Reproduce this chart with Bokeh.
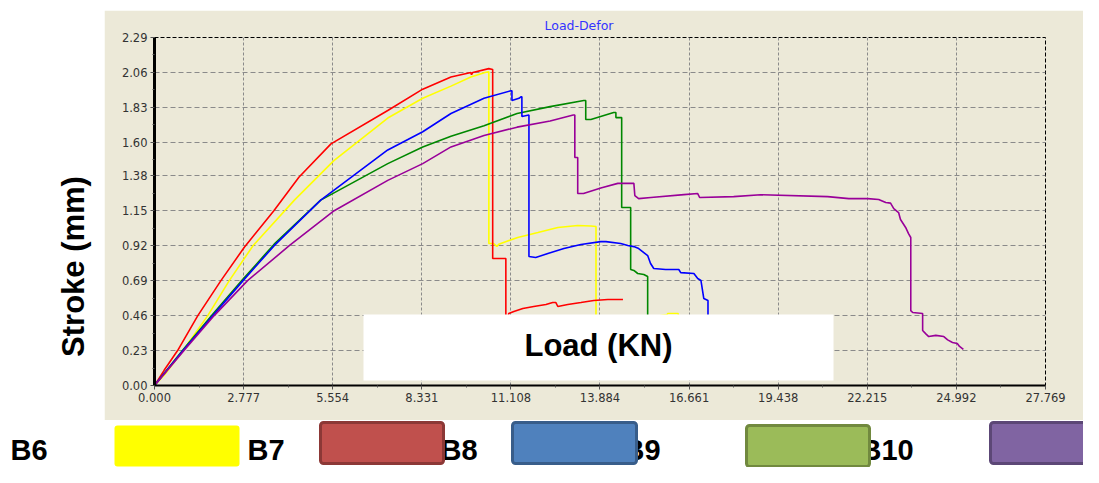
import math
from bokeh.plotting import figure
from bokeh.models import Range1d, FixedTicker, BoxAnnotation, Label, NumeralTickFormatter, Spacer
from bokeh.layouts import column, row
from bokeh.embed import file_html
from bokeh.resources import INLINE

# ---------------- data ----------------
x_ticks = [0.000, 2.777, 5.554, 8.331, 11.108, 13.884, 16.661, 19.438, 22.215, 24.992, 27.769]
y_ticks = [0.00, 0.23, 0.46, 0.69, 0.92, 1.15, 1.38, 1.60, 1.83, 2.06, 2.29]

series_names = ["B6", "B7", "B8", "B9", "B10"]
line_colors = ["#FFFF00", "#FF0000", "#0000FF", "#008800", "#990099"]

b6_load = [0, 0.35, 0.89, 1.66, 2.33, 3.07, 4.36, 5.59, 7.27, 8.36, 9.24, 9.86, 10.30, 10.42, 10.42,
           10.57, 10.67, 10.73, 11.32, 11.95, 12.57, 13.19, 13.60, 13.76, 13.76, 14.80, 15.97, 16.00, 16.32, 16.34]
b6_stroke = [0, 0.08, 0.23, 0.46, 0.69, 0.92, 1.22, 1.48, 1.76, 1.89, 1.97, 2.03, 2.06, 2.065, 0.934,
             0.934, 0.915, 0.930, 0.974, 1.007, 1.040, 1.053, 1.050, 1.046, 0.40, 0.43, 0.466, 0.474, 0.474, 0.42]

b7_load = [0, 0.30, 0.72, 1.35, 2.07, 2.80, 3.72, 4.50, 5.50, 7.27, 8.36, 9.24, 9.86, 9.88, 9.92, 10.42,
           10.54, 10.54, 10.95, 10.95, 11.04, 11.20, 11.48, 11.82, 12.20, 12.41, 12.51, 12.57, 12.88,
           13.29, 13.69, 14.13, 14.60]
b7_stroke = [0, 0.10, 0.23, 0.46, 0.69, 0.91, 1.15, 1.37, 1.59, 1.81, 1.95, 2.03, 2.06, 2.045, 2.06, 2.085,
             2.08, 0.836, 0.836, 0.35, 0.474, 0.487, 0.507, 0.520, 0.533, 0.546, 0.546, 0.520, 0.533,
             0.546, 0.559, 0.566, 0.566]

b8_load = [0, 0.89, 1.82, 2.76, 3.73, 5.18, 7.27, 8.36, 9.24, 10.27, 11.11, 11.14, 11.14, 11.36, 11.42,
           11.45, 11.45, 11.67, 11.67, 11.88, 12.26, 12.76, 13.29, 13.91, 14.07, 14.53, 14.75, 14.94,
           15.09, 15.25, 15.37, 15.46, 15.56, 15.93, 16.34, 16.40, 16.81, 16.93, 17.03, 17.12, 17.25, 17.25]
b8_stroke = [0, 0.23, 0.46, 0.69, 0.92, 1.22, 1.55, 1.67, 1.79, 1.89, 1.94, 1.94, 1.875, 1.89, 1.90,
             1.90, 1.77, 1.78, 0.849, 0.842, 0.868, 0.901, 0.928, 0.947, 0.947, 0.934, 0.921, 0.914,
             0.901, 0.875, 0.855, 0.803, 0.770, 0.763, 0.763, 0.743, 0.737, 0.704, 0.691, 0.572, 0.559, 0.30]

b9_load = [0, 0.89, 1.82, 2.76, 3.73, 5.18, 7.27, 8.36, 9.24, 10.27, 11.30, 12.33, 13.38, 13.44, 13.44,
           13.60, 14.31, 14.38, 14.38, 14.56, 14.56, 14.84, 14.84, 14.94, 15.06, 15.25, 15.37, 15.37]
b9_stroke = [0, 0.235, 0.47, 0.70, 0.93, 1.22, 1.46, 1.57, 1.64, 1.71, 1.79, 1.835, 1.875, 1.875, 1.75,
             1.75, 1.796, 1.796, 1.763, 1.763, 1.171, 1.171, 0.763, 0.757, 0.737, 0.730, 0.717, 0.30]

b10_load = [0, 0.92, 1.86, 2.90, 4.20, 5.60, 7.27, 8.36, 9.24, 10.27, 11.30, 12.33, 13.05, 13.10, 13.10,
            13.19, 13.19, 13.37, 13.91, 14.44, 14.94, 14.97, 15.09, 15.47, 16.50, 16.93, 16.99, 18.05,
            18.89, 20.98, 21.64, 22.23, 22.57, 22.79, 22.94, 23.04, 23.19, 23.25, 23.41, 23.50, 23.57,
            23.57, 23.63, 23.94, 23.94, 24.04, 24.13, 24.35, 24.60, 24.72, 24.87, 25.02, 25.09, 25.21]
b10_stroke = [0, 0.23, 0.46, 0.69, 0.92, 1.15, 1.35, 1.46, 1.57, 1.645, 1.70, 1.74, 1.78, 1.78, 1.50,
              1.50, 1.263, 1.263, 1.30, 1.33, 1.33, 1.25, 1.23, 1.237, 1.256, 1.263, 1.237, 1.243,
              1.255, 1.243, 1.23, 1.23, 1.224, 1.204, 1.20, 1.164, 1.138, 1.092, 1.04, 1.00, 0.974,
              0.493, 0.48, 0.474, 0.362, 0.34, 0.322, 0.33, 0.322, 0.30, 0.283, 0.276, 0.257, 0.237]

swatch_fill = ["#FFFF00", "#C0504D", "#4F81BD", "#9BBB59", "#8064A2"]
swatch_line = [None, "#8C3836", "#385D8A", "#71893F", "#5C4776"]

series = [(b6_load, b6_stroke), (b7_load, b7_stroke), (b8_load, b8_stroke),
          (b9_load, b9_stroke), (b10_load, b10_stroke)]
for xs, ys in series:
    assert len(xs) == len(ys)

BEIGE = "#ECE9D8"
BOLD = "Liberation Sans"

# ---------------- left strip with the y label ----------------
left = figure(width=104, height=420, output_backend="svg", toolbar_location=None,
              x_axis_location=None, y_axis_location=None, min_border=0,
              x_range=Range1d(0, 1), y_range=Range1d(0, 1),
              background_fill_color="white", border_fill_color="white", outline_line_color=None)
left.grid.visible = False
left.add_layout(Label(x=73, y=266, x_units="canvas", y_units="canvas", text="Stroke (mm)",
                      angle=math.pi / 2, text_font=BOLD, text_font_style="bold", text_font_size="31px",
                      text_color="black", text_align="center", text_baseline="middle"))

# ---------------- main chart ----------------
p = figure(width=979, height=410, output_backend="svg", toolbar_location=None,
           title="Load-Defor",
           x_range=Range1d(0, 27.769), y_range=Range1d(0, 2.29),
           min_border_left=50, min_border_right=38, min_border_top=27, min_border_bottom=35,
           background_fill_color=BEIGE, border_fill_color=BEIGE,
           outline_line_color="black", outline_line_dash="4 2", outline_line_width=1)
p.title.text_font = "DejaVu Sans"
p.title.text_font_size = "12.5px"
p.title.text_font_style = "normal"
p.title.text_color = "#3333FF"
p.title.align = "left"
p.title.offset = 390
p.title.standoff = 9


def mids(t):
    return [(a + b) / 2 for a, b in zip(t[:-1], t[1:])]


p.xaxis.ticker = FixedTicker(ticks=x_ticks, minor_ticks=mids(x_ticks))
p.yaxis.ticker = FixedTicker(ticks=y_ticks, minor_ticks=mids(y_ticks))
p.xaxis.formatter = NumeralTickFormatter(format="0.000")
p.yaxis.formatter = NumeralTickFormatter(format="0.00")

for ax in (p.xaxis[0], p.yaxis[0]):
    ax.axis_line_color = "black"
    ax.major_tick_line_color = "#555555"
    ax.minor_tick_line_color = "#555555"
    ax.major_tick_in = 0
    ax.major_tick_out = 4
    ax.minor_tick_in = 0
    ax.minor_tick_out = 2
    ax.major_label_text_font = "DejaVu Sans"
    ax.major_label_text_font_size = "11.5px"
    ax.major_label_text_color = "#333333"
    ax.major_label_standoff = 3
p.xaxis.axis_line_width = 2
p.yaxis.axis_line_width = 3

p.xgrid.grid_line_color = "#8a8a8a"
p.xgrid.grid_line_dash = "3 2"
p.ygrid.grid_line_color = "#8a8a8a"
p.ygrid.grid_line_dash = "5 3"

for i in [0, 1, 3, 2, 4]:
    xs, ys = series[i]
    p.line(xs, ys, line_color=line_colors[i], line_width=1.6)

# white box with the x label, laid over the chart
p.add_layout(BoxAnnotation(left=259, right=729, top=304, bottom=370,
                           left_units="canvas", right_units="canvas", top_units="canvas",
                           bottom_units="canvas", fill_color="white", fill_alpha=1.0,
                           line_color=None, line_alpha=0, level="overlay"))
p.add_layout(Label(x=494, y=335, x_units="canvas", y_units="canvas", text="Load (KN)",
                   text_font=BOLD, text_font_style="bold", text_font_size="31px",
                   text_color="black", text_align="center", text_baseline="middle", level="overlay"))

# ---------------- bottom row (series key) ----------------
leg = figure(width=1083, height=47, output_backend="svg", toolbar_location=None,
             x_axis_location=None, y_axis_location=None, min_border=0,
             x_range=Range1d(0, 1), y_range=Range1d(0, 1),
             background_fill_color="white", border_fill_color="white", outline_line_color=None)
leg.grid.visible = False

label_x = [10, 247, 440, 623, 860]
swatch_lr = [(114, 239), (320, 443), (512, 636), (746, 869), (990, 1100)]
swatch_tb = [(5, 46), (2, 43), (2, 43), (5, 46), (2, 43)]
for i, name in enumerate(series_names):
    leg.add_layout(Label(x=label_x[i], y=29, x_units="canvas", y_units="canvas", text=name,
                         text_font=BOLD, text_font_style="bold", text_font_size="29px",
                         text_color="black", text_align="left", text_baseline="middle"))
for i in range(5):
    l, r = swatch_lr[i]
    t, b = swatch_tb[i]
    kw = dict(left=l, right=r, top=t, bottom=b, left_units="canvas", right_units="canvas",
              top_units="canvas", bottom_units="canvas", fill_color=swatch_fill[i], fill_alpha=1.0,
              border_radius=3, level="overlay")
    if swatch_line[i] is None:
        kw.update(line_color=None, line_alpha=0)
    else:
        kw.update(line_color=swatch_line[i], line_alpha=1.0, line_width=3)
    leg.add_layout(BoxAnnotation(**kw))

layout = column(row(left, column(Spacer(width=979, height=10), p)), leg)

open("out.html", "w").write(file_html(layout, INLINE))
